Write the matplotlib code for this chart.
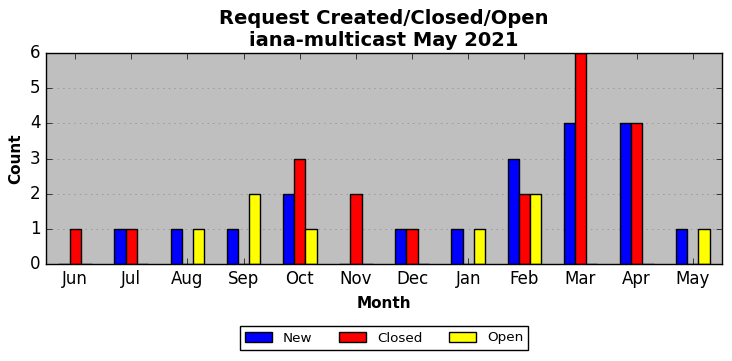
import numpy as np
import matplotlib
matplotlib.use("Agg")
import matplotlib.pyplot as plt

plt.style.use("classic")

months = ["Jun", "Jul", "Aug", "Sep", "Oct", "Nov", "Dec", "Jan", "Feb", "Mar", "Apr", "May"]
new = [0, 1, 1, 1, 2, 0, 1, 1, 3, 4, 4, 1]
closed = [1, 1, 0, 0, 3, 2, 1, 0, 2, 6, 4, 0]
opened = [0, 0, 1, 2, 1, 0, 0, 1, 2, 0, 0, 1]

x = np.arange(len(months))
w = 0.2

fig = plt.figure(figsize=(7.32, 3.61), dpi=100, facecolor="white")
ax = fig.add_axes([46 / 732, 1 - 264 / 361, 676 / 732, 211 / 361])
ax.set_facecolor("#bfbfbf")

ax.bar(x - w, new, w, color="blue", edgecolor="black", label="New")
ax.bar(x, closed, w, color="red", edgecolor="black", label="Closed")
ax.bar(x + w, opened, w, color="yellow", edgecolor="black", label="Open")

ax.set_xticks(x)
ax.set_xticklabels(months, fontsize=12)
ax.set_xlim(-0.52, 11.52)
ax.set_ylim(0, 6)
ax.tick_params(axis="y", labelsize=12)
ax.yaxis.grid(True, linestyle=":", color="#888888")
ax.set_axisbelow(True)

ax.set_xlabel("Month", fontsize=11, fontweight="bold", labelpad=6)
ax.set_ylabel("Count", fontsize=11, fontweight="bold")
ax.set_title("Request Created/Closed/Open\niana-multicast May 2021", fontsize=14, fontweight="bold")

fig.legend(loc="center", bbox_to_anchor=(384 / 732, 1 - 338 / 361), ncol=3, fontsize=9.7)

fig.savefig("out.png", dpi=100, facecolor="white")
